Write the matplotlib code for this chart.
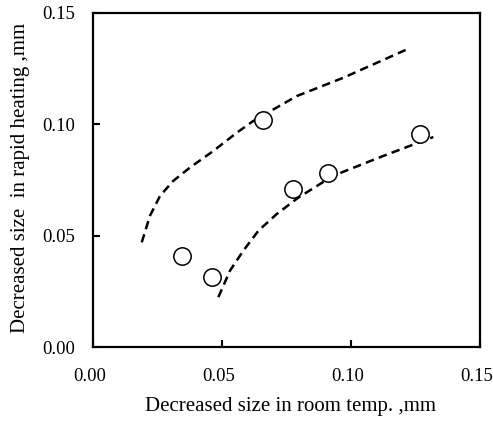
import matplotlib
matplotlib.use("Agg")
import matplotlib.pyplot as plt
import matplotlib.transforms as mtransforms

# Data
pts_x = [0.0344, 0.0460, 0.0660, 0.0776, 0.0912, 0.1267]
pts_y = [0.0410, 0.0313, 0.1020, 0.0709, 0.0783, 0.0955]

upper_x = [0.0189, 0.0221, 0.0260, 0.0311, 0.0376, 0.0466, 0.0557, 0.0621,
           0.0654, 0.0790, 0.0970, 0.1229]
upper_y = [0.0470, 0.0590, 0.0679, 0.0746, 0.0806, 0.0880, 0.0962, 0.1015,
           0.1037, 0.1127, 0.1209, 0.1343]

lower_x = [0.0486, 0.0531, 0.0583, 0.0641, 0.0712, 0.0796, 0.0931, 0.1125, 0.1319]
lower_y = [0.0224, 0.0343, 0.0433, 0.0522, 0.0597, 0.0671, 0.0769, 0.0858, 0.0943]

xticks = [0.00, 0.05, 0.10, 0.15]
yticks = [0.00, 0.05, 0.10, 0.15]
xlabel = "Decreased size in room temp. ,mm"
ylabel = "Decreased size  in rapid heating ,mm"

plt.rcParams['font.family'] = ['Liberation Serif', 'DejaVu Serif']

fig = plt.figure(figsize=(4.93, 4.29), dpi=100)
ax = fig.add_axes([0.1886, 0.1911, 0.785, 0.7786])

dash = (0, (3.4, 2.1))
ax.plot(upper_x, upper_y, linestyle=dash, color='black', linewidth=1.8)
ax.plot(lower_x, lower_y, linestyle=dash, color='black', linewidth=1.8)
ax.plot(pts_x, pts_y, linestyle='none', marker='o', markersize=12.5,
        markerfacecolor='white', markeredgecolor='black', markeredgewidth=1.1)

ax.set_xlim(0, 0.15)
ax.set_ylim(0, 0.15)
ax.set_xticks(xticks)
ax.set_yticks(yticks)
ax.set_xticklabels([f"{v:.2f}" for v in xticks])
ax.set_yticklabels([f"{v:.2f}" for v in yticks])
ax.tick_params(direction='in', length=5, width=1.5, labelsize=13.5, pad=15)
ax.tick_params(axis='y', pad=13)
for s in ax.spines.values():
    s.set_linewidth(1.6)

shift = mtransforms.ScaledTranslation(-3 / 100, 0, fig.dpi_scale_trans)
for lbl in ax.get_xticklabels():
    lbl.set_transform(lbl.get_transform() + shift)

ax.set_xlabel(xlabel, fontsize=15)
ax.xaxis.set_label_coords(0.51, -0.150)
ax.set_ylabel(ylabel, fontsize=15)
ax.yaxis.set_label_coords(-0.162, 0.506)

fig.savefig("out.png", dpi=100)
